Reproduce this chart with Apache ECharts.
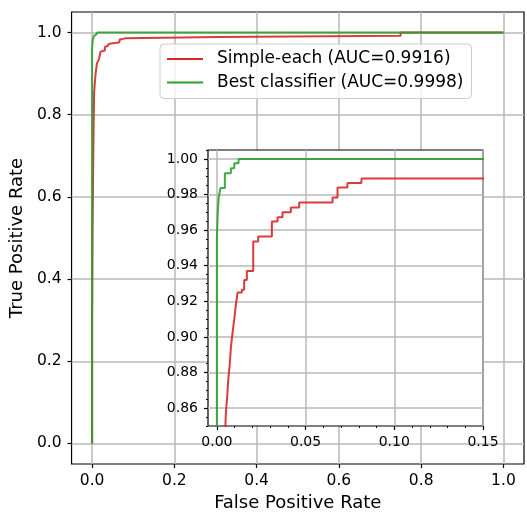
<!DOCTYPE html>
<html>
<head>
<meta charset="utf-8">
<script src="https://cdn.jsdelivr.net/npm/echarts@6/dist/echarts.min.js"></script>
<style>
  html, body { margin: 0; padding: 0; background: #fff; }
  #chart { width: 527px; height: 517px; }
</style>
</head>
<body>
<div id="chart"></div>
<script>
// ---- data ----
const seriesNames = ['Simple-each (AUC=0.9916)', 'Best classifier (AUC=0.9998)'];

const fprSimple = [0, 0, 0.001, 0.001, 0.002, 0.002, 0.003, 0.003, 0.004, 0.004, 0.0048, 0.0048,
  0.0051, 0.0051, 0.0058, 0.0058, 0.0064, 0.0064, 0.0072, 0.0072, 0.0079, 0.0079, 0.0088, 0.0088,
  0.0098, 0.0098, 0.0107, 0.0107, 0.0117, 0.0117, 0.0141, 0.0141, 0.0154, 0.0154, 0.0169, 0.0169,
  0.0205, 0.0205, 0.0233, 0.0233, 0.031, 0.031, 0.0342, 0.0342, 0.037, 0.037, 0.0417, 0.0417,
  0.0464, 0.0464, 0.0652, 0.0652, 0.068, 0.068, 0.0736, 0.0736, 0.0815, 0.0815, 0.307, 0.307,
  0.75, 0.75, 1.0];
const tprSimple = [0, 0.30, 0.30, 0.50, 0.50, 0.62, 0.62, 0.72, 0.72, 0.80, 0.80, 0.85,
  0.85, 0.858, 0.858, 0.866, 0.866, 0.876, 0.876, 0.884, 0.884, 0.894, 0.894, 0.902,
  0.902, 0.910, 0.910, 0.918, 0.918, 0.925, 0.925, 0.9265, 0.9265, 0.932, 0.932, 0.937,
  0.937, 0.9536, 0.9536, 0.9564, 0.9564, 0.9648, 0.9648, 0.9673, 0.9673, 0.970, 0.970, 0.9727,
  0.9727, 0.9755, 0.9755, 0.9783, 0.9783, 0.9839, 0.9839, 0.9864, 0.9864, 0.989, 0.989, 0.992,
  0.992, 1.0, 1.0];

const fprBest = [0, 0, 0.0005, 0.0005, 0.001, 0.001, 0.002, 0.002, 0.0045, 0.0045, 0.0079, 0.0079,
  0.0098, 0.0098, 0.0122, 0.0122, 1.0];
const tprBest = [0, 0.955, 0.955, 0.970, 0.970, 0.978, 0.978, 0.9836, 0.9836, 0.992, 0.992, 0.9948,
  0.9948, 0.9976, 0.9976, 1.0, 1.0];

const mainTicks = [0, 0.2, 0.4, 0.6, 0.8, 1.0];
const insetXTicks = [0, 0.05, 0.10, 0.15];
const insetYTicks = [0.86, 0.88, 0.90, 0.92, 0.94, 0.96, 0.98, 1.00];

// ---- build ----
const zip = (xs, ys) => xs.map((x, i) => [x, ys[i]]);
const simple = zip(fprSimple, tprSimple);
const best = zip(fprBest, tprBest);

function minorList(lo, hi, step, majors) {
  const out = [];
  for (let k = Math.ceil(lo / step - 1e-9); k * step <= hi + 1e-9; k++) {
    const v = +(k * step).toFixed(4);
    if (!majors.some(m => Math.abs(m - v) < 1e-9)) out.push(v);
  }
  return out;
}

const FONT = 'DejaVu Sans';
const RED = '#d62728', GREEN = '#2ca02c';
const gridColor = '#b8b8b8';

const main = { left: 69, top: 12, width: 455, height: 459 };
const inset = { left: 208, top: 150, width: 275, height: 276 };

const chart = echarts.init(document.getElementById('chart'), null, { renderer: 'canvas' });

const noLine = { show: false, onZero: false };

const option = {
  animation: false,
  backgroundColor: '#fff',
  textStyle: { fontFamily: FONT },
  grid: [
    Object.assign({ show: true, borderColor: '#000', borderWidth: 1.2, backgroundColor: 'transparent', z: 0 }, main),
    Object.assign({ show: true, borderColor: '#000', borderWidth: 1.2, backgroundColor: '#fff', z: 5 }, inset)
  ],
  legend: {
    data: seriesNames,
    orient: 'vertical',
    left: 160, top: 44,
    padding: [6.5, 8, 7.5, 7],
    itemWidth: 36, itemHeight: 2,
    itemGap: 6.5,
    icon: 'rect',
    backgroundColor: 'rgba(255,255,255,0.8)',
    borderColor: '#cccccc', borderWidth: 1, borderRadius: 4,
    textStyle: { fontFamily: FONT, fontSize: 17, color: '#000', padding: [0, 0, 0, 9] },
    z: 10
  },
  xAxis: [
    {
      type: 'value', gridIndex: 0, position: 'bottom', min: -0.05, max: 1.05,
      name: 'False Positive Rate', nameLocation: 'middle', nameGap: 30,
      nameTextStyle: { fontFamily: FONT, fontSize: 18, color: '#000' },
      axisLine: noLine,
      axisTick: { show: true, customValues: mainTicks, length: 4, inside: false, lineStyle: { color: '#000', width: 1.2 } },
      axisLabel: { customValues: mainTicks, formatter: v => v.toFixed(1), margin: 9, fontFamily: FONT, fontSize: 15.5, color: '#000' },
      splitLine: { show: true, lineStyle: { color: gridColor, width: 1.5 } },
      z: 0
    },
    {
      type: 'value', gridIndex: 1, position: 'bottom', min: -0.005, max: 0.15,
      axisLine: noLine,
      axisTick: { show: true, customValues: insetXTicks, length: 4, lineStyle: { color: '#000', width: 1.2 } },
      axisLabel: { customValues: insetXTicks, formatter: v => v.toFixed(2), margin: 9, fontFamily: FONT, fontSize: 14, color: '#000' },
      splitLine: { show: true, lineStyle: { color: gridColor, width: 1.5 } },
      z: 6
    },
    {
      type: 'value', gridIndex: 1, position: 'bottom', min: -0.005, max: 0.15,
      axisLine: noLine,
      axisTick: { show: true, customValues: minorList(-0.005, 0.15, 0.01, insetXTicks), length: 2, lineStyle: { color: '#000', width: 1 } },
      axisLabel: { show: false },
      splitLine: { show: false },
      z: 6
    }
  ],
  yAxis: [
    {
      type: 'value', gridIndex: 0, position: 'left', min: -0.05, max: 1.05,
      name: 'True Positive Rate', nameLocation: 'middle', nameGap: 40,
      nameTextStyle: { fontFamily: FONT, fontSize: 18, color: '#000' },
      axisLine: noLine,
      axisTick: { show: true, customValues: mainTicks, length: 4, lineStyle: { color: '#000', width: 1.2 } },
      axisLabel: { customValues: mainTicks, formatter: v => v.toFixed(1), margin: 10, fontFamily: FONT, fontSize: 15.5, color: '#000' },
      splitLine: { show: true, lineStyle: { color: gridColor, width: 1.5 } },
      z: 0
    },
    {
      type: 'value', gridIndex: 1, position: 'left', min: 0.85, max: 1.005,
      axisLine: noLine,
      axisTick: { show: true, customValues: insetYTicks, length: 4, lineStyle: { color: '#000', width: 1.2 } },
      axisLabel: { customValues: insetYTicks, formatter: v => v.toFixed(2), margin: 10, fontFamily: FONT, fontSize: 14, color: '#000' },
      splitLine: { show: true, lineStyle: { color: gridColor, width: 1.5 } },
      z: 6
    },
    {
      type: 'value', gridIndex: 1, position: 'left', min: 0.85, max: 1.005,
      axisLine: noLine,
      axisTick: { show: true, customValues: minorList(0.85, 1.005, 0.005, insetYTicks), length: 2, lineStyle: { color: '#000', width: 1 } },
      axisLabel: { show: false },
      splitLine: { show: false },
      z: 6
    }
  ],
  series: [
    { name: seriesNames[0], type: 'line', xAxisIndex: 0, yAxisIndex: 0, data: simple, showSymbol: false, symbol: 'none',
      lineStyle: { color: RED, width: 2, opacity: 0.9 }, itemStyle: { color: RED }, z: 2 },
    { name: seriesNames[1], type: 'line', xAxisIndex: 0, yAxisIndex: 0, data: best, showSymbol: false, symbol: 'none',
      lineStyle: { color: GREEN, width: 2, opacity: 0.9 }, itemStyle: { color: GREEN }, z: 3 },
    { name: seriesNames[0], type: 'line', xAxisIndex: 1, yAxisIndex: 1, data: simple, showSymbol: false, symbol: 'none', clip: true,
      lineStyle: { color: RED, width: 2, opacity: 0.9 }, itemStyle: { color: RED }, z: 7 },
    { name: seriesNames[1], type: 'line', xAxisIndex: 1, yAxisIndex: 1, data: best, showSymbol: false, symbol: 'none', clip: true,
      lineStyle: { color: GREEN, width: 2, opacity: 0.9 }, itemStyle: { color: GREEN }, z: 8 }
  ]
};
chart.setOption(option);
</script>
</body>
</html>
